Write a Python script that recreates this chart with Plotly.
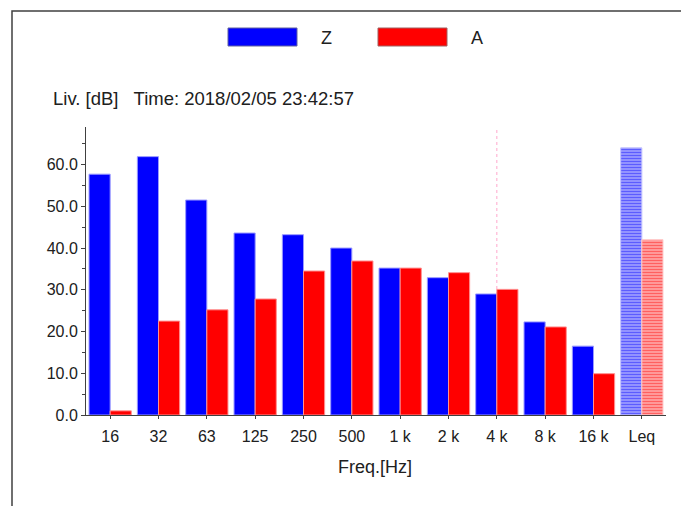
import plotly.graph_objects as go

categories = ["16", "32", "63", "125", "250", "500", "1 k", "2 k", "4 k", "8 k", "16 k", "Leq"]
z_values = [57.7, 61.9, 51.5, 43.6, 43.2, 40.0, 35.2, 32.9, 29.0, 22.3, 16.5, 64.0]
a_values = [1.0, 22.5, 25.2, 27.8, 34.5, 36.9, 35.2, 34.1, 30.1, 21.1, 9.9, 42.0]
series_names = ["Z", "A"]
header_text = "Liv. [dB]   Time: 2018/02/05 23:42:57"
x_title = "Freq.[Hz]"
marker_category = "4 k"

# page has an 8px body margin; work in window pixels and shift
OFF = 8
W, H = 689 - OFF, 506 - OFF
L, R, T, B = 86, 666, 127, 415
PW, PH = R - L, B - T


def px(x):
    return (x - L) / PW


def py(y):
    return (B - y) / PH


FONT = "Liberation Sans, Arial, sans-serif"
TXT = "#202020"

n = len(categories)
last = n - 1


def colors(solid, light):
    return [light if i == last else solid for i in range(n)]


def bar_marker(solid, edge, light_bg, stripe, light_edge):
    return dict(
        color=solid,
        line=dict(color=colors(edge, light_edge), width=1),
        pattern=dict(
            shape=["" if i != last else "-" for i in range(n)],
            fillmode="overlay",
            bgcolor=colors(solid, light_bg),
            fgcolor=colors(solid, stripe),
            fgopacity=1,
            size=3, solidity=0.5,
        ),
    )


fig = go.Figure()
fig.add_trace(go.Bar(
    x=categories, y=z_values, name=series_names[0],
    marker=bar_marker("#0000ff", "#9a9aff", "#a4a4ff", "#5c5cff", "#c0c0ff"),
    showlegend=False,
))
fig.add_trace(go.Bar(
    x=categories, y=a_values, name=series_names[1],
    marker=bar_marker("#ff0000", "#ff9090", "#ffacac", "#ff6060", "#ffc8c8"),
    showlegend=False,
))

shapes = []
# outer frame
shapes.append(dict(type="rect", xref="paper", yref="paper",
                   x0=px(12), x1=px(720), y0=py(540), y1=py(11),
                   line=dict(color="#404040", width=1.5), layer="below"))
# dotted marker line
shapes.append(dict(type="line", xref="x", yref="paper",
                   x0=marker_category, x1=marker_category, y0=0, y1=1,
                   line=dict(color="#ffa8cc", width=1, dash="dot"), layer="below"))
# legend swatches
for (x0, x1), col in [((228, 297), "#0000ff"), ((378, 447), "#ff0000")]:
    shapes.append(dict(type="rect", xref="paper", yref="paper",
                       x0=px(x0), x1=px(x1), y0=py(46), y1=py(28),
                       line=dict(color="#6060a0" if col == "#0000ff" else "#a06060", width=1),
                       fillcolor=col))

annotations = [
    dict(text=series_names[0], xref="paper", yref="paper", x=px(319), y=py(38),
         xanchor="left", yanchor="middle", showarrow=False,
         font=dict(family=FONT, size=18, color=TXT)),
    dict(text=series_names[1], xref="paper", yref="paper", x=px(469), y=py(38),
         xanchor="left", yanchor="middle", showarrow=False,
         font=dict(family=FONT, size=18, color=TXT)),
    dict(text=header_text, xref="paper", yref="paper", x=px(51), y=py(98),
         xanchor="left", yanchor="middle", showarrow=False,
         font=dict(family=FONT, size=18.5, color=TXT)),
    dict(text=x_title, xref="paper", yref="paper", x=px(375), y=py(467),
         xanchor="center", yanchor="middle", showarrow=False,
         font=dict(family=FONT, size=18, color=TXT)),
]

fig.update_layout(
    width=W, height=H, autosize=False,
    margin=dict(l=L - OFF, r=689 - R, t=T - OFF, b=506 - B, pad=0),
    paper_bgcolor="white", plot_bgcolor="white",
    barmode="group", bargap=0.125, bargroupgap=0,
    shapes=shapes, annotations=annotations,
    font=dict(family=FONT, size=15, color=TXT),
)
fig.update_xaxes(
    type="category", showline=True, linecolor="#404040", linewidth=1,
    ticks="outside", ticklen=3, tickcolor="#404040", showgrid=False,
    tickfont=dict(family=FONT, size=16, color=TXT), zeroline=False,
    ticklabelstandoff=4,
)
fig.update_yaxes(
    range=[0, 69], showline=True, linecolor="#404040", linewidth=1,
    ticks="outside", ticklen=4, tickcolor="#404040", dtick=10, tickformat=".1f",
    minor=dict(dtick=5, ticks="outside", ticklen=3, tickcolor="#404040", showgrid=False),
    showgrid=False, zeroline=False,
    tickfont=dict(family=FONT, size=16, color=TXT),
)

fig.write_html("out.html")
